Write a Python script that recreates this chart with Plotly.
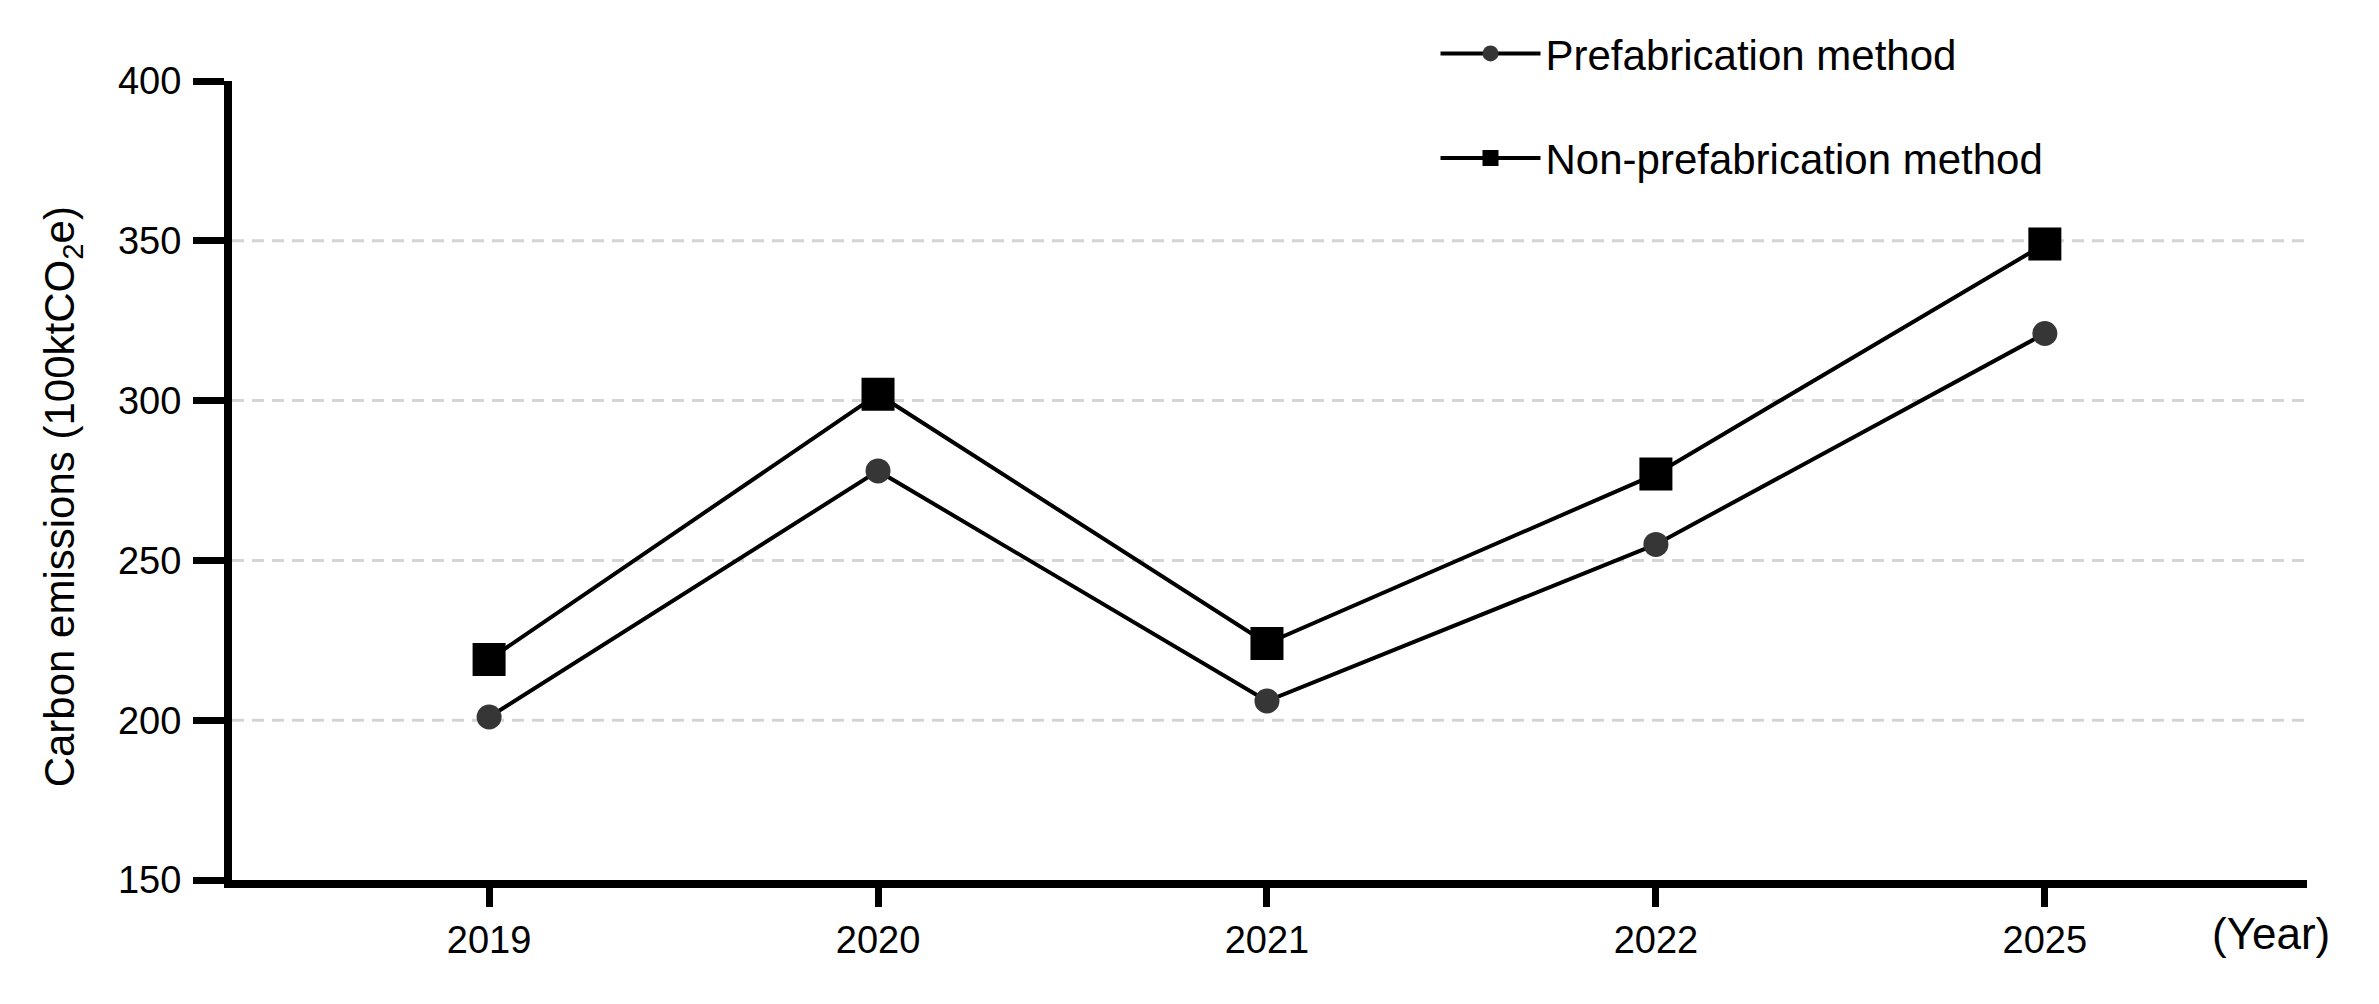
import plotly.graph_objects as go

years = ["2019", "2020", "2021", "2022", "2025"]
prefab = [201, 278, 206, 255, 321]
non_prefab = [219, 302, 224, 277, 349]
y_ticks = [150, 200, 250, 300, 350, 400]
grid_values = [200, 250, 300, 350]

FONT = "Liberation Sans, Arial, sans-serif"

fig = go.Figure()
fig.add_trace(go.Scatter(
    x=years, y=prefab, name="Prefabrication method", mode="lines+markers",
    line=dict(color="black", width=4),
    marker=dict(symbol="circle", size=25, color="#363636"),
    legendgroup="a"))
fig.add_trace(go.Scatter(
    x=years, y=non_prefab, name="Non-prefabrication method", mode="lines+markers",
    line=dict(color="black", width=4),
    marker=dict(symbol="square", size=33, color="black"),
    legendgroup="b"))

for v in grid_values:
    fig.add_shape(type="line", xref="paper", x0=0, x1=1, yref="y", y0=v, y1=v,
                  line=dict(color="#d4d4d4", width=3, dash="12px,8px"), layer="below")

fig.add_annotation(text="Carbon emissions (100ktCO<sub>2</sub>e)", xref="paper", yref="paper",
                   x=-0.0819, y=0.479, xanchor="center", yanchor="middle", textangle=-90,
                   showarrow=False, font=dict(family=FONT, size=42, color="black"))
fig.add_annotation(text="(Year)", xref="paper", yref="paper",
                   x=0.9825, y=-0.0668, xanchor="center", yanchor="middle",
                   showarrow=False, font=dict(family=FONT, size=44, color="black"))

fig.update_layout(
    width=2363, height=988, autosize=False,
    margin=dict(l=224, r=64, t=64, b=116),
    paper_bgcolor="white", plot_bgcolor="white",
    font=dict(family=FONT, color="black"),
    showlegend=True,
    legend=dict(x=0.5800, y=1.0768, xanchor="left", yanchor="top",
                font=dict(family=FONT, size=42, color="black"),
                tracegroupgap=47, bgcolor="rgba(0,0,0,0)", itemwidth=100),
    xaxis=dict(type="category", range=[-0.661, 4.674], showline=True, linewidth=8,
               linecolor="black", ticks="outside", ticklen=19, tickwidth=7,
               tickcolor="black", tickfont=dict(family=FONT, size=38, color="black"),
               showgrid=False, zeroline=False, ticklabelstandoff=0),
    yaxis=dict(range=[150, 400], tickvals=y_ticks, showline=True, linewidth=8,
               linecolor="black", ticks="outside", ticklen=31, tickwidth=7,
               tickcolor="black", tickfont=dict(family=FONT, size=38, color="black"),
               showgrid=False, zeroline=False, ticklabelstandoff=4),
)

fig.write_html("out.html")
